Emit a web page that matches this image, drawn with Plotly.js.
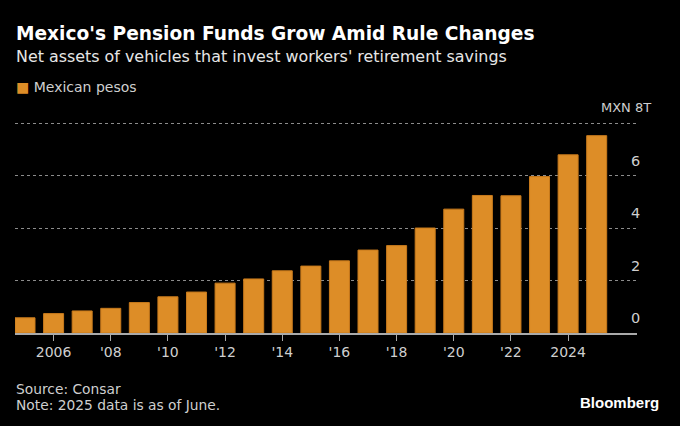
<!DOCTYPE html>
<html>
<head>
<meta charset="utf-8">
<script src="https://cdn.plot.ly/plotly-3.0.1.min.js"></script>
<style>
  html, body { margin: 0; padding: 0; background: #000; }
</style>
</head>
<body>
<div id="chart" style="width:680px;height:426px"></div>
<script>
// values, MXN trillions
let years = [2005, 2006, 2007, 2008, 2009, 2010, 2011, 2012, 2013, 2014, 2015, 2016, 2017, 2018, 2019, 2020, 2021, 2022, 2023, 2024, 2025]
let netAssets = [0.58, 0.74, 0.84, 0.94, 1.16, 1.38, 1.56, 1.9, 2.06, 2.37, 2.55, 2.75, 3.16, 3.33, 4.0, 4.72, 5.24, 5.23, 5.96, 6.79, 7.52]
let xTickVals = [2006, 2008, 2010, 2012, 2014, 2016, 2018, 2020, 2022, 2024]
let xTickText = ['2006', "'08", "'10", "'12", "'14", "'16", "'18", "'20", "'22", '2024']
let yTickVals = [0, 2, 4, 6, 8]
let yTickText = ['0', '2', '4', '6', '']

let font = 'DejaVu Sans'
let grey = '#cfcfcf'
let orange = '#dd8d27'

let trace = {
    type: 'bar',
    x: years,
    y: netAssets,
    name: 'Mexican pesos',
    width: 0.7,
    marker: { color: orange, line: { color: '#c87a1c', width: 1 } },
    hoverinfo: 'x+y'
}

let layout = {
    width: 680,
    height: 426,
    paper_bgcolor: '#000',
    plot_bgcolor: '#000',
    font: { family: font, color: grey, size: 14 },
    margin: { l: 15, r: 43.3, t: 121.6, b: 93.3 },
    title: {
        text: "Mexico's Pension Funds Grow Amid Rule Changes",
        font: { family: font, size: 18.6, color: '#fff', weight: 700 },
        x: 16 / 680, xanchor: 'left', y: 0.922, yanchor: 'middle'
    },
    showlegend: false,
    xaxis: {
        range: [2004.65, 2026.41],
        tickmode: 'array',
        tickvals: xTickVals,
        ticktext: xTickText,
        ticks: 'outside',
        ticklen: 6,
        tickcolor: '#aaa',
        tickfont: { family: font, size: 14, color: grey },
        showgrid: false,
        showline: true,
        linecolor: '#aaa',
        linewidth: 1.5,
        zeroline: false
    },
    yaxis: {
        range: [0, 8.04],
        side: 'right',
        tickmode: 'array',
        tickvals: yTickVals,
        ticktext: yTickText,
        ticks: '',
        ticklabelstandoff: -7,
        ticklabelshift: -15,
        tickfont: { family: font, size: 14.5, color: grey },
        showgrid: true,
        gridcolor: '#8c8c8c',
        griddash: 'dot',
        gridwidth: 1,
        zeroline: false,
        showline: false
    },
    annotations: [
        { text: "Net assets of vehicles that invest workers' retirement savings", xref: 'paper', yref: 'paper', x: -0.0015, y: 1.31, xanchor: 'left', yanchor: 'middle', showarrow: false, font: { family: font, size: 15.9, color: '#e6e6e6' } },
        { text: '<span style="color:' + orange + '">■</span> Mexican pesos', xref: 'paper', yref: 'paper', x: -0.002, y: 1.167, xanchor: 'left', yanchor: 'middle', showarrow: false, font: { family: font, size: 14, color: grey } },
        { text: 'MXN 8T', xref: 'paper', yref: 'paper', x: 1.0265, y: 1.07, xanchor: 'right', yanchor: 'middle', showarrow: false, font: { family: font, size: 13, color: grey } },
        { text: 'Source: Consar', xref: 'paper', yref: 'paper', x: -0.002, y: -0.265, xanchor: 'left', yanchor: 'middle', showarrow: false, font: { family: font, size: 13.8, color: grey } },
        { text: 'Note: 2025 data is as of June.', xref: 'paper', yref: 'paper', x: -0.002, y: -0.34, xanchor: 'left', yanchor: 'middle', showarrow: false, font: { family: font, size: 13.8, color: grey } },
        { text: '<b>Bloomberg</b>', xref: 'paper', yref: 'paper', x: 1.038, y: -0.33, xanchor: 'right', yanchor: 'middle', showarrow: false, font: { family: 'Liberation Sans', size: 15, color: '#fff' } }
    ]
}

Plotly.newPlot('chart', [trace], layout, { displayModeBar: false, staticPlot: true })
</script>
</body>
</html>
